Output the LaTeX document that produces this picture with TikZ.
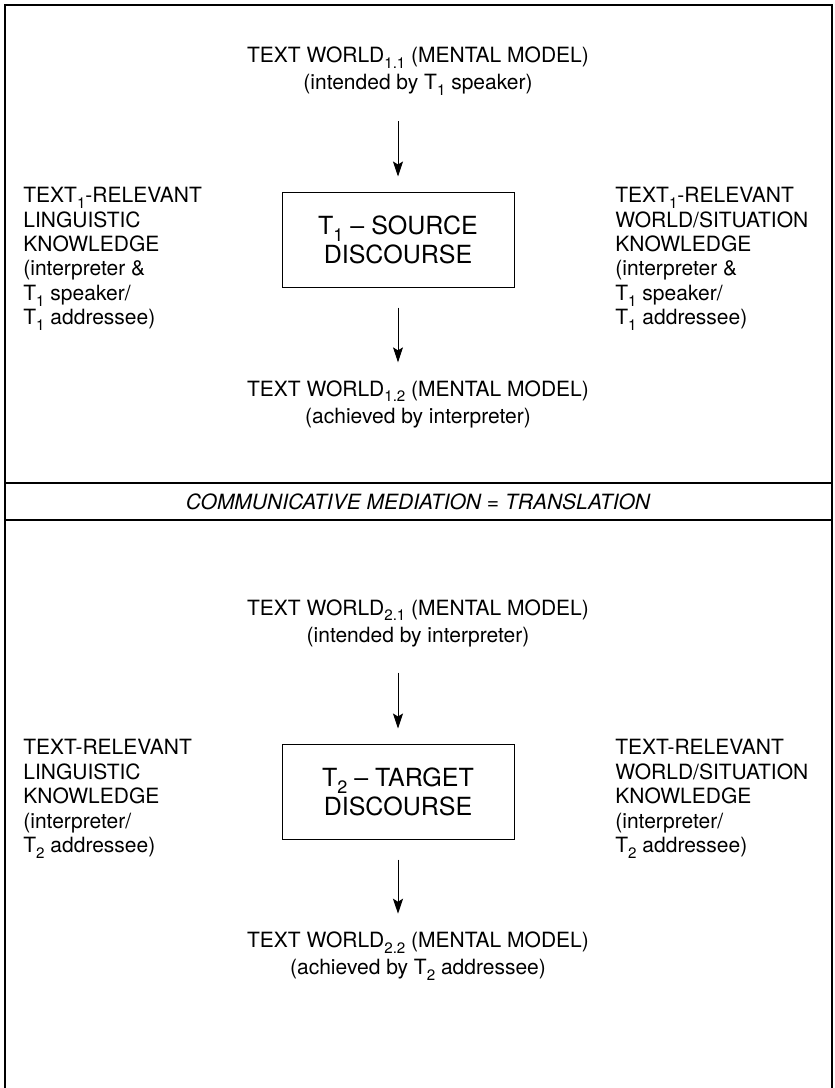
\documentclass[tikz,border=0pt]{standalone}
\usepackage{fontspec}
\usepackage{graphicx}
\setmainfont{TeX Gyre Heros}
\usetikzlibrary{arrows.meta}
% small lowered index (T1, WORLD1.1 ...)
\newcommand\lowidx[1]{\raisebox{-0.28em}{\scalebox{0.72}{#1}}}

\begin{document}
\begin{tikzpicture}[x=0.5pt,y=-0.5pt,
  txt/.style={inner sep=0pt, align=center, font=\fontsize{10.5}{13.5}\selectfont},
  side/.style={inner sep=0pt, align=left, font=\fontsize{10.5}{12.2}\selectfont},
  disc/.style={draw, line width=0.5pt, minimum width=116pt, minimum height=47.5pt,
    inner sep=0pt, align=center, font=\fontsize{12.5}{14.5}\selectfont},
  arr/.style={line width=0.5pt, -{Stealth[length=7.5pt,width=5pt,inset=1.5pt]}},
  frame/.style={line width=0.75pt},
  band/.style={inner sep=0pt, font=\fontsize{10.5}{12}\selectfont\itshape}]
\useasboundingbox (0,0) rectangle (835,1088);

% outer frame, open at the bottom
\draw[frame] (5,1088) -- (5,5) -- (832,5) -- (832,1088);
% mediation band
\draw[frame] (5,483) -- (832,483);
\draw[frame] (5,520) -- (832,520);
\node[band] (med) at (418,501.5) {COMMUNICATIVE MEDIATION = TRANSLATION};

% ---- source side ----
\node[txt] (w11) at (418,71) {TEXT WORLD\lowidx{1.1} (MENTAL MODEL)\\(intended by T\lowidx{1} speaker)};
\node[disc] (src) at (398,239.5) {T\lowidx{1} – SOURCE\\DISCOURSE};
\node[txt] (w12) at (418,404) {TEXT WORLD\lowidx{1.2} (MENTAL MODEL)\\(achieved by interpreter)};
\node[side, anchor=west] (ling1) at (23,259) {TEXT\lowidx{1}-RELEVANT\\LINGUISTIC\\KNOWLEDGE\\(interpreter \&\\T\lowidx{1} speaker/\\T\lowidx{1} addressee)};
\node[side, anchor=west] (world1) at (615,259) {TEXT\lowidx{1}-RELEVANT\\WORLD/SITUATION\\KNOWLEDGE\\(interpreter \&\\T\lowidx{1} speaker/\\T\lowidx{1} addressee)};

\draw[arr, shorten <=12.75pt, shorten >=7.5pt] (w11.south -| src.north) -- (src.north);
\draw[arr, shorten <=10pt, shorten >=8.8pt] (src.south) -- (src.south |- w12.north);

% ---- target side ----
\node[txt] (w21) at (418,623) {TEXT WORLD\lowidx{2.1} (MENTAL MODEL)\\(intended by interpreter)};
\node[disc] (tgt) at (398,791.5) {T\lowidx{2} – TARGET\\DISCOURSE};
\node[txt] (w22) at (418,956) {TEXT WORLD\lowidx{2.2} (MENTAL MODEL)\\(achieved by T\lowidx{2} addressee)};
\node[side, anchor=west] (ling2) at (23,799) {TEXT-RELEVANT\\LINGUISTIC\\KNOWLEDGE\\(interpreter/\\T\lowidx{2} addressee)};
\node[side, anchor=west] (world2) at (615,799) {TEXT-RELEVANT\\WORLD/SITUATION\\KNOWLEDGE\\(interpreter/\\T\lowidx{2} addressee)};

\draw[arr, shorten <=12.75pt, shorten >=7.5pt] (w21.south -| tgt.north) -- (tgt.north);
\draw[arr, shorten <=10pt, shorten >=8.8pt] (tgt.south) -- (tgt.south |- w22.north);
\end{tikzpicture}
\end{document}
